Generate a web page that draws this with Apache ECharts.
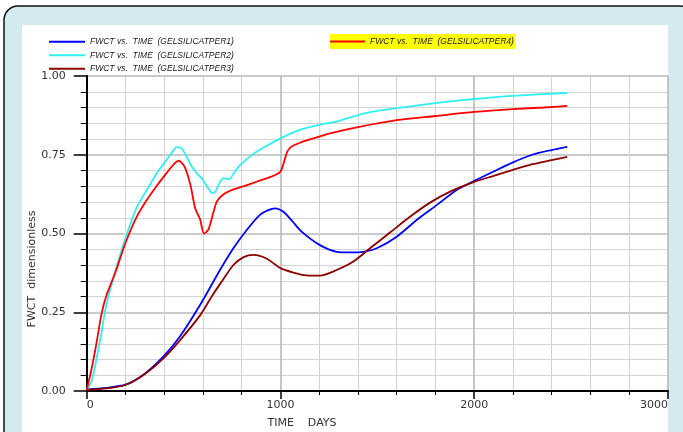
<!DOCTYPE html>
<html>
<head>
<meta charset="utf-8">
<script src="https://cdn.jsdelivr.net/npm/echarts@6/dist/echarts.min.js"></script>
<style>
  html, body { margin: 0; padding: 0; background: #fff; }
  #chart { width: 683px; height: 432px; }
</style>
</head>
<body>
<div id="chart"></div>
<script>
// series names (legend text)
var names = [
  "FWCT vs.  TIME  (GELSILICATPER1)",
  "FWCT vs.  TIME  (GELSILICATPER2)",
  "FWCT vs.  TIME  (GELSILICATPER3)",
  "FWCT vs.  TIME  (GELSILICATPER4)"
];

// PER1 - blue
var per1Days = [0, 100, 200, 300, 400, 480, 585, 688, 757, 826, 894, 940, 972, 1015, 1060, 1109, 1204, 1290, 1360, 1428, 1497, 1600, 1703, 1806, 1909, 2000, 2100, 2200, 2300, 2400, 2480];
var per1Vals = [0.005, 0.01, 0.02, 0.055, 0.112, 0.172, 0.273, 0.384, 0.453, 0.511, 0.559, 0.575, 0.58, 0.569, 0.54, 0.506, 0.463, 0.442, 0.44, 0.442, 0.453, 0.49, 0.543, 0.59, 0.638, 0.667, 0.697, 0.726, 0.75, 0.765, 0.775];

// PER2 - cyan
var per2Days = [0, 25, 50, 75, 100, 150, 200, 260, 310, 360, 410, 440, 464, 490, 515, 540, 570, 600, 628, 648, 665, 685, 705, 720, 735, 760, 790, 850, 900, 1000, 1100, 1200, 1300, 1400, 1500, 1600, 1800, 2000, 2200, 2480];
var per2Vals = [0.003, 0.03, 0.1, 0.18, 0.27, 0.385, 0.485, 0.585, 0.638, 0.69, 0.732, 0.757, 0.774, 0.77, 0.745, 0.715, 0.69, 0.67, 0.643, 0.628, 0.634, 0.66, 0.675, 0.674, 0.672, 0.692, 0.716, 0.748, 0.768, 0.802, 0.829, 0.845, 0.857, 0.876, 0.889, 0.898, 0.914, 0.927, 0.937, 0.946];

// PER3 - dark red
var per3Days = [0, 100, 200, 300, 400, 480, 585, 650, 700, 757, 810, 860, 930, 1000, 1066, 1135, 1204, 1290, 1376, 1462, 1565, 1668, 1772, 1875, 2000, 2100, 2200, 2300, 2400, 2480];
var per3Vals = [0.003, 0.008, 0.019, 0.054, 0.106, 0.16, 0.24, 0.305, 0.35, 0.4, 0.425, 0.432, 0.42, 0.39, 0.376, 0.367, 0.366, 0.384, 0.411, 0.453, 0.503, 0.553, 0.598, 0.633, 0.664, 0.683, 0.702, 0.72, 0.733, 0.743];

// PER4 - red
var per4Days = [0, 25, 50, 75, 100, 150, 200, 260, 310, 360, 410, 450, 475, 505, 535, 560, 585, 605, 628, 653, 672, 705, 757, 810, 880, 950, 998, 1015, 1035, 1055, 1100, 1170, 1256, 1400, 1600, 1800, 2000, 2200, 2360, 2480];
var per4Vals = [0.003, 0.07, 0.15, 0.24, 0.3, 0.38, 0.47, 0.555, 0.606, 0.65, 0.69, 0.72, 0.731, 0.712, 0.655, 0.58, 0.545, 0.5, 0.512, 0.565, 0.602, 0.624, 0.64, 0.65, 0.665, 0.68, 0.695, 0.72, 0.76, 0.775, 0.788, 0.802, 0.818, 0.838, 0.86, 0.873, 0.886, 0.895, 0.9, 0.905];

var colors = ["#0000ff", "#2ff0f0", "#8b0000", "#ff0000"];

function pairs(days, vals) {
  var out = [];
  for (var i = 0; i < days.length; i++) out.push([days[i], vals[i]]);
  return out;
}

var chart = echarts.init(document.getElementById("chart"));

var legendText = {
  fontFamily: "Liberation Sans",
  fontStyle: "italic",
  fontSize: 8.5,
  lineHeight: 11.5,
  color: "#222"
};

var allData = [
  pairs(per1Days, per1Vals),
  pairs(per2Days, per2Vals),
  pairs(per3Days, per3Vals),
  pairs(per4Days, per4Vals)
];

var series = [];
for (var i = 0; i < 4; i++) {
  series.push({
    name: names[i],
    type: "line",
    data: allData[i],
    showSymbol: false,
    smooth: 0.25,
    lineStyle: { color: colors[i], width: 1.8 },
    itemStyle: { color: colors[i] }
  });
}

var option = {
  animation: false,
  graphic: [
    {
      type: "rect", z: -100,
      shape: { x: 4, y: 6, width: 690, height: 450, r: 14 },
      style: { fill: "#d5eaf0", stroke: "#111", lineWidth: 1.5 }
    },
    {
      type: "rect", z: -99,
      shape: { x: 22, y: 25, width: 646, height: 420 },
      style: { fill: "#ffffff" }
    },
    {
      type: "text", x: 32, y: 269, rotation: Math.PI / 2,
      style: {
        text: "FWCT  dimensionless", fontFamily: "DejaVu Sans", fontSize: 11,
        fill: "#333", align: "center", verticalAlign: "middle"
      }
    },
    {
      type: "text", x: 302, y: 423,
      style: {
        text: "TIME    DAYS", fontFamily: "DejaVu Sans", fontSize: 11,
        fill: "#333", align: "center", verticalAlign: "middle"
      }
    }
  ],
  legend: [
    {
      data: [names[0], names[1], names[2]],
      orient: "vertical",
      left: 49,
      top: 36,
      padding: 0,
      itemGap: 2,
      itemWidth: 36,
      itemHeight: 2,
      icon: "rect",
      textStyle: legendText
    },
    {
      data: [names[3]],
      left: 330,
      top: 34,
      padding: [1.75, 1, 1.75, 0],
      backgroundColor: "#ffff00",
      itemWidth: 35,
      itemHeight: 2,
      icon: "rect",
      textStyle: legendText
    }
  ],
  grid: {
    left: 86.7,
    top: 76,
    right: 15,
    bottom: 41,
    containLabel: false,
    outerBoundsMode: "none"
  },
  xAxis: {
    type: "value",
    min: 0,
    max: 3000,
    interval: 1000,
    axisLine: { show: true, onZero: false, lineStyle: { color: "#000", width: 2 } },
    axisTick: { show: true, length: 8, lineStyle: { color: "#000", width: 1.5 } },
    minorTick: { show: true, splitNumber: 5, length: 4, lineStyle: { color: "#000", width: 1 } },
    splitLine: { show: true, lineStyle: { color: "#b8b8b8", width: 1.6 } },
    minorSplitLine: { show: true, lineStyle: { color: "#d3d3d3", width: 1 } },
    axisLabel: {
      margin: 9,
      fontFamily: "DejaVu Sans",
      fontSize: 11,
      color: "#333",
      alignMinLabel: "left",
      alignMaxLabel: "right",
      formatter: function (v) { return String(v); }
    }
  },
  yAxis: {
    type: "value",
    min: 0,
    max: 1,
    interval: 0.25,
    axisLine: { show: true, onZero: false, lineStyle: { color: "#000", width: 2 } },
    axisTick: { show: true, length: 13, lineStyle: { color: "#000", width: 1.5 } },
    minorTick: { show: true, splitNumber: 5, length: 6, lineStyle: { color: "#000", width: 1 } },
    splitLine: { show: true, lineStyle: { color: "#b8b8b8", width: 1.6 } },
    minorSplitLine: { show: true, lineStyle: { color: "#d3d3d3", width: 1 } },
    axisLabel: {
      margin: 21,
      fontFamily: "DejaVu Sans",
      fontSize: 11,
      color: "#333",
      formatter: function (v) { return v.toFixed(2); }
    }
  },
  series: series
};

chart.setOption(option);
</script>
</body>
</html>
